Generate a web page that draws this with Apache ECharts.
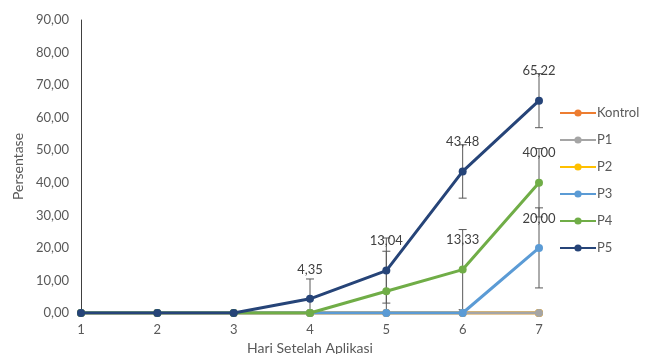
<!DOCTYPE html>
<html>
<head>
    <meta charset="utf-8">
    <title>Persentase</title>
    <script src="https://cdn.jsdelivr.net/npm/echarts@6/dist/echarts.min.js"></script>
</head>
<body style="margin:0;background:#fff">
<div id="main" style="width:649px;height:354px;"></div>
<script type="text/javascript">
    // hari setelah aplikasi
    var days = ['1', '2', '3', '4', '5', '6', '7'];
    var seriesNames = ['Kontrol', 'P1', 'P2', 'P3', 'P4', 'P5'];
    var colors = ['#ED7D31', '#A5A5A5', '#FFC000', '#5B9BD5', '#70AD47', '#264478'];
    var stackOrder = [3, 5, 4, 6, 7, 8]; // P1 lies over P2 and Kontrol, like the original

    var kontrol = [0, 0, 0, 0, 0, 0, 0];
    var p1 = [0, 0, 0, 0, 0, 0, 0];
    var p2 = [0, 0, 0, 0, 0, 0, 0];
    var p3 = [0, 0, 0, 0, 0, 0, 20.00];
    var p4 = [0, 0, 0, 0, 6.67, 13.33, 40.00];
    var p5 = [0, 0, 0, 4.35, 13.04, 43.48, 65.22];

    // error bar (+/-)
    var p3Err = [0, 0, 0, 0, 0, 0, 12.3];
    var p4Err = [0, 0, 0, 0, 12.3, 12.3, 10.5];
    var p5Err = [0, 0, 0, 6.1, 10, 8.2, 8.3];

    // which points get a data label
    var p3Labels = [6];
    var p4Labels = [5, 6];
    var p5Labels = [3, 4, 5, 6];

    var allData = [kontrol, p1, p2, p3, p4, p5];
    var allLabels = [[], [], [], p3Labels, p4Labels, p5Labels];

    var font = 'Lato';
    var fmt = function (v) { return v.toFixed(2).replace('.', ','); };

    var lineSeries = seriesNames.map(function (name, i) {
        return {
            name: name,
            type: 'line',
            z: stackOrder[i],
            data: allData[i].map(function (v, j) {
                var show = allLabels[i].indexOf(j) >= 0;
                return { value: v, label: { show: show } };
            }),
            symbol: 'circle',
            symbolSize: 8,
            lineStyle: { width: 3, color: colors[i] },
            itemStyle: { color: colors[i] },
            label: {
                position: 'top',
                distance: 19,
                color: '#404040',
                fontFamily: font,
                fontSize: 13,
                formatter: function (p) { return fmt(p.value); }
            },
            animation: false
        };
    });

    var errRows = [];
    [[p3, p3Err], [p4, p4Err], [p5, p5Err]].forEach(function (pair) {
        pair[0].forEach(function (v, j) {
            if (pair[1][j] > 0) {
                errRows.push([j, Math.max(0, v - pair[1][j]), v + pair[1][j], v - pair[1][j] >= 0 ? 1 : 0]);
            }
        });
    });

    var errorSeries = {
        type: 'custom',
        z: 2,
        silent: true,
        data: errRows,
        renderItem: function (params, api) {
            var top = api.coord([api.value(0), api.value(2)]);
            var bot = api.coord([api.value(0), api.value(1)]);
            var hw = 4;
            var style = { stroke: '#595959', lineWidth: 1 };
            var children = [
                { type: 'line', shape: { x1: top[0], y1: top[1], x2: bot[0], y2: bot[1] }, style: style },
                { type: 'line', shape: { x1: top[0] - hw, y1: top[1], x2: top[0] + hw, y2: top[1] }, style: style }
            ];
            if (api.value(3)) {
                children.push({ type: 'line', shape: { x1: bot[0] - hw, y1: bot[1], x2: bot[0] + hw, y2: bot[1] }, style: style });
            }
            return { type: 'group', children: children };
        },
        animation: false
    };

    var myChart = echarts.init(document.getElementById('main'));
    var option = {
        backgroundColor: '#fff',
        grid: { left: 81, right: 110, top: 20, bottom: 41, outerBoundsMode: 'none' },
        legend: {
            orient: 'vertical',
            left: 554,
            top: 100,
            itemWidth: 36,
            itemHeight: 9,
            itemGap: 11,
            data: seriesNames,
            textStyle: { color: '#595959', fontFamily: font, fontSize: 13, lineHeight: 16, padding: [0, 0, 0, -4] }
        },
        xAxis: {
            type: 'category',
            data: days,
            boundaryGap: false,
            name: 'Hari Setelah Aplikasi',
            nameLocation: 'middle',
            nameGap: 28,
            nameTextStyle: { color: '#595959', fontFamily: font, fontSize: 14 },
            axisLine: { lineStyle: { color: '#BFBFBF' } },
            axisTick: { show: false },
            axisLabel: { color: '#595959', fontFamily: font, fontSize: 13, margin: 10 }
        },
        yAxis: {
            type: 'value',
            min: 0,
            max: 90,
            interval: 10,
            name: 'Persentase',
            nameLocation: 'middle',
            nameGap: 55,
            nameTextStyle: { color: '#595959', fontFamily: font, fontSize: 14 },
            axisLine: { show: true, lineStyle: { color: '#404040' } },
            axisTick: { show: false },
            splitLine: { show: false },
            axisLabel: {
                color: '#595959', fontFamily: font, fontSize: 13, margin: 12,
                formatter: function (v) { return fmt(v); }
            }
        },
        series: [errorSeries].concat(lineSeries)
    };
    myChart.setOption(option);
</script>
</body>
</html>
